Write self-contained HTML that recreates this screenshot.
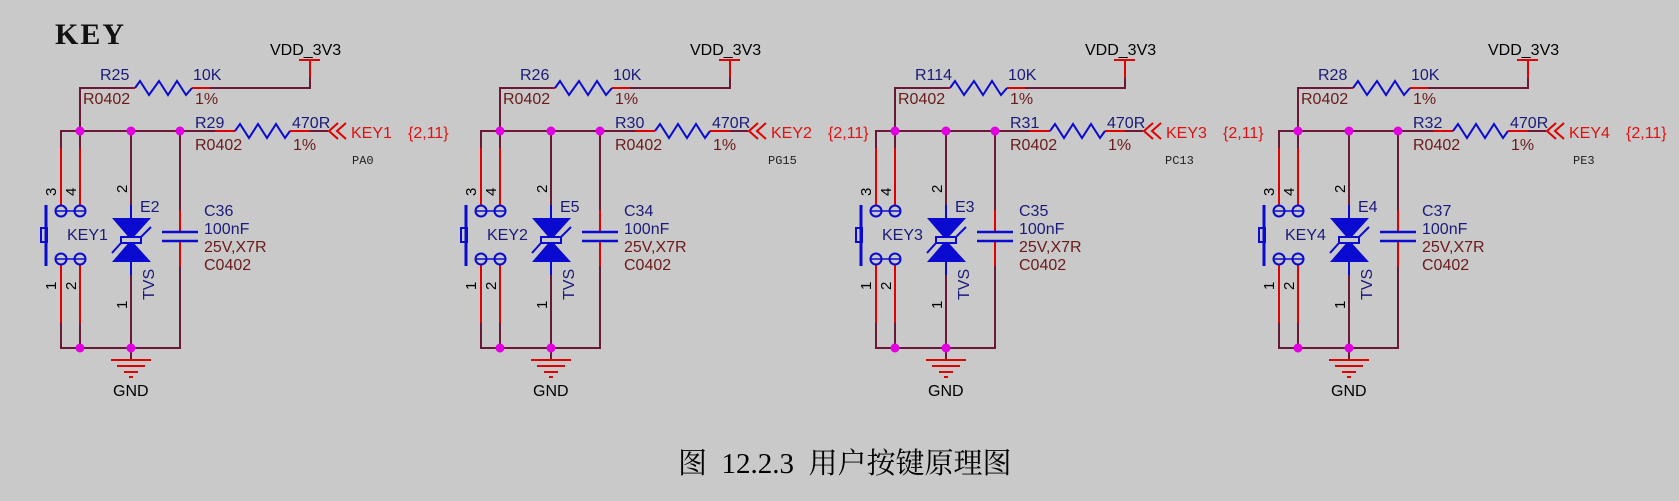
<!DOCTYPE html>
<html><head><meta charset="utf-8"><style>
html,body{margin:0;padding:0;background:#c9c9c9;}
svg{display:block;}
text{font-family:"Liberation Sans",sans-serif;}
.b{fill:#1a1a7a;font-size:16px;}
.br{fill:#6a1a1a;font-size:16px;}
.r{fill:#e01010;font-size:16px;}
.k{fill:#000;font-size:16px;}
</style></head><body>
<svg width="1679" height="501" viewBox="0 0 1679 501" xmlns="http://www.w3.org/2000/svg">
<defs>
<g id="geo" fill="none" stroke-width="2">
  <g stroke="#6b1838">
    <polyline points="80,131 80,88 133,88"/>
    <polyline points="210,88 310,88 310,78"/>
    <polyline points="61,148 61,131 215,131"/>
    <line x1="310" y1="131" x2="328" y2="131"/>
    <line x1="80" y1="131" x2="80" y2="148"/>
    <polyline points="61,323 61,348 180,348 180,266"/>
    <line x1="80" y1="323" x2="80" y2="348"/>
    <line x1="131" y1="131" x2="131" y2="205"/>
    <line x1="131" y1="275" x2="131" y2="360"/>
    <line x1="180" y1="131" x2="180" y2="210"/>
  </g>
  <g stroke="#e00000">
    <line x1="310" y1="78" x2="310" y2="61"/>
    <line x1="299" y1="60" x2="320" y2="60"/>
    <line x1="133" y1="88" x2="135" y2="88"/>
    <line x1="192" y1="88" x2="210" y2="88"/>
    <line x1="215" y1="131" x2="235" y2="131"/>
    <line x1="290" y1="131" x2="310" y2="131"/>
    <line x1="61" y1="148" x2="61" y2="206"/>
    <line x1="80" y1="148" x2="80" y2="206"/>
    <line x1="61" y1="264" x2="61" y2="323"/>
    <line x1="80" y1="264" x2="80" y2="323"/>
    <line x1="180" y1="210" x2="180" y2="232"/>
    <line x1="180" y1="241" x2="180" y2="266"/>
    <polyline points="338,123 329,131 338,139"/>
    <polyline points="346,123 337,131 346,139"/>
    <line x1="111" y1="360" x2="151" y2="360"/>
    <line x1="117" y1="366" x2="145" y2="366"/>
    <line x1="124" y1="372" x2="138" y2="372"/>
    <line x1="129" y1="377" x2="133" y2="377"/>
  </g>
  <g stroke="#0a0ad0">
    <polyline points="135,88 140,81 149,95 159,81 168,95 177,81 186,95 192,88"/>
    <polyline points="235,131 240,124 249,138 258,124 267,138 276,124 285,138 290,131"/>
    <circle cx="61" cy="211" r="5.5"/><circle cx="80" cy="211" r="5.5"/>
    <circle cx="61" cy="259" r="5.5"/><circle cx="80" cy="259" r="5.5"/>
    <line x1="55" y1="211" x2="86" y2="211" stroke-width="1.5"/>
    <line x1="55" y1="259" x2="86" y2="259" stroke-width="1.5"/>
    <line x1="46" y1="205" x2="46" y2="266" stroke-width="3"/>
    <rect x="41" y="228" width="6" height="14" stroke-width="2"/>
    <line x1="131" y1="205" x2="131" y2="218"/>
    <line x1="131" y1="262" x2="131" y2="275"/>
    <line x1="162" y1="232" x2="198" y2="232" stroke-width="2.5"/>
    <line x1="162" y1="241" x2="198" y2="241" stroke-width="2.5"/>
    <polyline points="112,253 121,243 141,237 151,227"/>
  </g>
  <polygon points="112,218 151,218 131,240" fill="#0a0ad0"/>
  <polygon points="112,262 151,262 131,240" fill="#0a0ad0"/>
  <rect x="121" y="237" width="20" height="6" fill="#c9c9c9" stroke="#0a0ad0" stroke-width="2"/>
  <g fill="#e000e0">
    <circle cx="80" cy="131" r="4.5"/><circle cx="131" cy="131" r="4.5"/><circle cx="180" cy="131" r="4.5"/>
    <circle cx="80" cy="348" r="4.5"/><circle cx="131" cy="348" r="4.5"/>
  </g>
  <g>
    <text transform="translate(56,196) rotate(-90)" style="font-size:15px;fill:#000;font-family:'Liberation Sans',sans-serif">3</text>
    <text transform="translate(76,196) rotate(-90)" style="font-size:15px;fill:#000;font-family:'Liberation Sans',sans-serif">4</text>
    <text transform="translate(56,290) rotate(-90)" style="font-size:15px;fill:#000;font-family:'Liberation Sans',sans-serif">1</text>
    <text transform="translate(76,290) rotate(-90)" style="font-size:15px;fill:#000;font-family:'Liberation Sans',sans-serif">2</text>
    <text transform="translate(127,193) rotate(-90)" style="font-size:15px;fill:#000;font-family:'Liberation Sans',sans-serif">2</text>
    <text transform="translate(127,309) rotate(-90)" style="font-size:15px;fill:#000;font-family:'Liberation Sans',sans-serif">1</text>
    <text transform="translate(154,300) rotate(-90)" style="font-size:16px;fill:#1a1a7a;font-family:'Liberation Sans',sans-serif">TVS</text>
  </g>
</g>
</defs>

<text x="55" y="44" style="font-family:'Liberation Serif',serif;font-weight:bold;font-size:30px;fill:#111;letter-spacing:2px">KEY</text>

<g transform="translate(0,0)">
<use href="#geo"/>
<text class="k" x="270" y="55">VDD_3V3</text>
<text class="b" x="100" y="80">R25</text><text class="b" x="193" y="80">10K</text>
<text class="br" x="83" y="104">R0402</text><text class="br" x="195" y="104">1%</text>
<text class="b" x="195" y="128">R29</text><text class="b" x="292" y="128">470R</text>
<text class="br" x="195" y="150">R0402</text><text class="br" x="293" y="150">1%</text>
<text class="r" x="351" y="138">KEY1</text><text class="r" x="408" y="138">{2,11}</text>
<text x="352" y="164" style="font-family:'Liberation Mono',monospace;font-size:12px;fill:#222">PA0</text>
<text class="b" x="140" y="212">E2</text>
<text class="b" x="67" y="240">KEY1</text>
<text class="b" x="204" y="216">C36</text><text class="b" x="204" y="234">100nF</text>
<text class="br" x="204" y="252">25V,X7R</text><text class="br" x="204" y="270">C0402</text>
<text class="k" x="113" y="396">GND</text>
</g>

<g transform="translate(420,0)">
<use href="#geo"/>
<text class="k" x="270" y="55">VDD_3V3</text>
<text class="b" x="100" y="80">R26</text><text class="b" x="193" y="80">10K</text>
<text class="br" x="83" y="104">R0402</text><text class="br" x="195" y="104">1%</text>
<text class="b" x="195" y="128">R30</text><text class="b" x="292" y="128">470R</text>
<text class="br" x="195" y="150">R0402</text><text class="br" x="293" y="150">1%</text>
<text class="r" x="351" y="138">KEY2</text><text class="r" x="408" y="138">{2,11}</text>
<text x="348" y="164" style="font-family:'Liberation Mono',monospace;font-size:12px;fill:#222">PG15</text>
<text class="b" x="140" y="212">E5</text>
<text class="b" x="67" y="240">KEY2</text>
<text class="b" x="204" y="216">C34</text><text class="b" x="204" y="234">100nF</text>
<text class="br" x="204" y="252">25V,X7R</text><text class="br" x="204" y="270">C0402</text>
<text class="k" x="113" y="396">GND</text>
</g>

<g transform="translate(815,0)">
<use href="#geo"/>
<text class="k" x="270" y="55">VDD_3V3</text>
<text class="b" x="100" y="80">R114</text><text class="b" x="193" y="80">10K</text>
<text class="br" x="83" y="104">R0402</text><text class="br" x="195" y="104">1%</text>
<text class="b" x="195" y="128">R31</text><text class="b" x="292" y="128">470R</text>
<text class="br" x="195" y="150">R0402</text><text class="br" x="293" y="150">1%</text>
<text class="r" x="351" y="138">KEY3</text><text class="r" x="408" y="138">{2,11}</text>
<text x="350" y="164" style="font-family:'Liberation Mono',monospace;font-size:12px;fill:#222">PC13</text>
<text class="b" x="140" y="212">E3</text>
<text class="b" x="67" y="240">KEY3</text>
<text class="b" x="204" y="216">C35</text><text class="b" x="204" y="234">100nF</text>
<text class="br" x="204" y="252">25V,X7R</text><text class="br" x="204" y="270">C0402</text>
<text class="k" x="113" y="396">GND</text>
</g>

<g transform="translate(1218,0)">
<use href="#geo"/>
<text class="k" x="270" y="55">VDD_3V3</text>
<text class="b" x="100" y="80">R28</text><text class="b" x="193" y="80">10K</text>
<text class="br" x="83" y="104">R0402</text><text class="br" x="195" y="104">1%</text>
<text class="b" x="195" y="128">R32</text><text class="b" x="292" y="128">470R</text>
<text class="br" x="195" y="150">R0402</text><text class="br" x="293" y="150">1%</text>
<text class="r" x="351" y="138">KEY4</text><text class="r" x="408" y="138">{2,11}</text>
<text x="355" y="164" style="font-family:'Liberation Mono',monospace;font-size:12px;fill:#222">PE3</text>
<text class="b" x="140" y="212">E4</text>
<text class="b" x="67" y="240">KEY4</text>
<text class="b" x="204" y="216">C37</text><text class="b" x="204" y="234">100nF</text>
<text class="br" x="204" y="252">25V,X7R</text><text class="br" x="204" y="270">C0402</text>
<text class="k" x="113" y="396">GND</text>
</g>

<text x="678" y="473" style="font-family:'Liberation Serif','Noto Serif CJK SC',serif;font-size:29px;fill:#000">图&#160;&#160;12.2.3&#160;&#160;用户按键原理图</text>
</svg>
</body></html>
